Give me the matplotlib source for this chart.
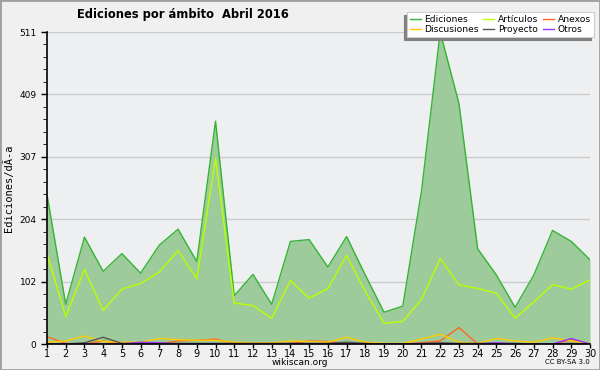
import matplotlib
matplotlib.use("Agg")
from matplotlib import pyplot as plt
from matplotlib.ticker import MultipleLocator

# daily edit counts, Abril 2016
days = list(range(1, 31))
ediciones = [245, 65, 175, 119, 148, 116, 162, 188, 135, 365,
             79, 114, 65, 168, 171, 126, 176, 113, 52, 62,
             250, 511, 394, 156, 113, 60, 113, 186, 168, 138]
articulos = [148, 45, 122, 55, 90, 99, 118, 153, 107, 304,
             67, 63, 42, 104, 75, 91, 145, 86, 34, 37,
             73, 140, 97, 91, 83, 42, 69, 97, 90, 105]
anexos = [12, 1, 0, 5, 0, 0, 0, 5, 6, 8,
          1, 0, 0, 1, 5, 4, 1, 0, 0, 0,
          2, 5, 27, 0, 0, 0, 0, 0, 7, 0]
discusiones = [3, 5, 13, 4, 3, 3, 9, 7, 6, 6,
               3, 2, 2, 5, 4, 3, 11, 3, 1, 1,
               8, 16, 3, 1, 9, 5, 3, 10, 5, 1]
proyecto = [0, 0, 2, 11, 1, 1, 1, 1, 1, 1,
            1, 1, 1, 1, 1, 1, 3, 1, 0, 0,
            1, 2, 1, 1, 1, 1, 0, 0, 1, 0]
otros = [0, 0, 0, 0, 0, 3, 2, 0, 0, 0,
         0, 0, 0, 0, 0, 0, 0, 0, 0, 0,
         0, 0, 0, 0, 2, 0, 0, 0, 9, 0]
yticks = [0, 102, 204, 307, 409, 511]

fig = plt.figure(figsize=(6, 3.7), dpi=100, facecolor="#f0f0f0")
fig.patches.append(plt.Rectangle((0, 0), 1, 1, transform=fig.transFigure,
                                 fill=False, edgecolor="#a0a0a0", lw=2))
ax = fig.add_axes([47 / 600, 26 / 370, 543 / 600, 312 / 370])
ax.set_facecolor("#eeeff1")

ax.fill_between(days, ediciones, 0, color="#9dcb9b", lw=0)
l_ed, = ax.plot(days, ediciones, color="#33b533", lw=1, label="Ediciones")
l_ar, = ax.plot(days, articulos, color="#bbff00", lw=1, label="Artículos")
l_an, = ax.plot(days, anexos, color="#ff6622", lw=1, label="Anexos")
l_di, = ax.plot(days, discusiones, color="#ffcc00", lw=1, label="Discusiones")
l_pr, = ax.plot(days, proyecto, color="#555555", lw=1, label="Proyecto")
l_ot, = ax.plot(days, otros, color="#9933ff", lw=1, label="Otros")

ax.set_xlim(1, 30)
ax.set_ylim(0, 511)
ax.set_xticks(days)
ax.set_yticks(yticks)
ax.yaxis.set_minor_locator(MultipleLocator(511 / 25))
ax.tick_params(axis="y", labelsize=6.5, length=4, width=1, color="black")
ax.tick_params(axis="x", labelsize=7, length=3, width=1, pad=0.5)
ax.tick_params(axis="y", which="minor", length=3)
ax.grid(axis="y", color="#cccccc", lw=1)
ax.set_axisbelow(True)
for s in ["top", "right"]:
    ax.spines[s].set_visible(False)
ax.spines["left"].set_linewidth(1.2)
ax.spines["bottom"].set_linewidth(1.2)

ax.set_ylabel("Ediciones/dÃ-a", family="DejaVu Sans Mono", fontsize=7.5, labelpad=4)
fig.text(0.305, 0.962, "Ediciones por ámbito  Abril 2016", fontsize=8.3,
         fontweight="bold", ha="center", va="center")
fig.text(0.5, 0.021, "wikiscan.org", fontsize=6.5, ha="center", va="center")
fig.text(0.945, 0.021, "CC BY-SA 3.0", fontsize=5, ha="center", va="center")

# column-major order so rows read Ediciones/Artículos/Anexos, Discusiones/Proyecto/Otros
handles = [l_ed, l_di, l_ar, l_pr, l_an, l_ot]
leg = ax.legend(handles, [h.get_label() for h in handles], ncol=3,
                loc="upper right", bbox_to_anchor=(594 / 600, 358 / 370),
                bbox_transform=fig.transFigure, borderaxespad=0, fontsize=6.6,
                frameon=True, fancybox=False,
                shadow={"ox": -2, "oy": -2, "color": "#808080", "alpha": 1},
                handlelength=1.2, handletextpad=0.4,
                columnspacing=0.5, labelspacing=0.1, borderpad=0.35)
leg.get_frame().set_edgecolor("#cccccc")
leg.get_frame().set_linewidth(0.8)

fig.savefig("out.png", dpi=100, facecolor=fig.get_facecolor())
